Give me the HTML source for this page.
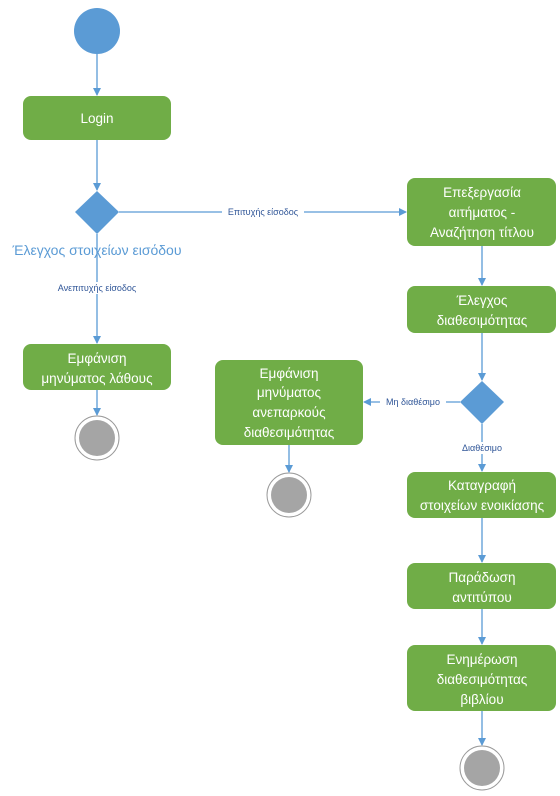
<!DOCTYPE html>
<html><head><meta charset="utf-8"><style>
body{margin:0;background:#fff;}
svg text{font-family:"Liberation Sans","DejaVu Sans",sans-serif;}
</style></head><body>
<svg width="560" height="791" viewBox="0 0 560 791" xmlns="http://www.w3.org/2000/svg">
<defs><marker id="a" markerWidth="8" markerHeight="8" refX="7" refY="4" orient="auto" markerUnits="userSpaceOnUse"><path d="M0,0 L8,4 L0,8 z" fill="#5b9bd5"/></marker></defs>
<g stroke="#5b9bd5" stroke-width="1.3" fill="none">
<line x1="97" y1="54" x2="97" y2="95" marker-end="url(#a)"/>
<line x1="97" y1="140" x2="97" y2="190" marker-end="url(#a)"/>
<line x1="97" y1="234" x2="97" y2="343" marker-end="url(#a)"/>
<line x1="97" y1="390" x2="97" y2="415" marker-end="url(#a)"/>
<line x1="119" y1="212" x2="406" y2="212" marker-end="url(#a)"/>
<line x1="482" y1="246" x2="482" y2="285" marker-end="url(#a)"/>
<line x1="482" y1="333" x2="482" y2="380" marker-end="url(#a)"/>
<line x1="460" y1="402" x2="364" y2="402" marker-end="url(#a)"/>
<line x1="289" y1="445" x2="289" y2="472" marker-end="url(#a)"/>
<line x1="482" y1="424" x2="482" y2="471" marker-end="url(#a)"/>
<line x1="482" y1="518" x2="482" y2="562" marker-end="url(#a)"/>
<line x1="482" y1="609" x2="482" y2="644" marker-end="url(#a)"/>
<line x1="482" y1="711" x2="482" y2="745" marker-end="url(#a)"/>
</g>
<circle cx="97" cy="31" r="23" fill="#5b9bd5"/>
<g fill="#70ad47">
<rect x="23" y="96" width="148" height="44" rx="8"/>
<rect x="23" y="344" width="148" height="46" rx="8"/>
<rect x="215" y="360" width="148" height="85" rx="8"/>
<rect x="407" y="178" width="149" height="68" rx="8"/>
<rect x="407" y="286" width="149" height="47" rx="8"/>
<rect x="407" y="472" width="149" height="46" rx="8"/>
<rect x="407" y="563" width="149" height="46" rx="8"/>
<rect x="407" y="645" width="149" height="66" rx="8"/>
</g>
<polygon points="97,191 119,212 97,234 75,212" fill="#5b9bd5"/>
<polygon points="482,381 504,402 482,424 460,402" fill="#5b9bd5"/>
<g>
<circle cx="97" cy="438" r="22" fill="#fff" stroke="#999" stroke-width="1"/><circle cx="97" cy="438" r="18" fill="#a5a5a5"/>
<circle cx="289" cy="495" r="22" fill="#fff" stroke="#999" stroke-width="1"/><circle cx="289" cy="495" r="18" fill="#a5a5a5"/>
<circle cx="482" cy="768" r="22" fill="#fff" stroke="#999" stroke-width="1"/><circle cx="482" cy="768" r="18" fill="#a5a5a5"/>
</g>
<g fill="#fff" font-size="13.5" text-anchor="middle">
<text x="97" y="123">Login</text>
<text x="97" y="363">Εμφάνιση</text><text x="97" y="383">μηνύματος λάθους</text>
<text x="289" y="378">Εμφάνιση</text><text x="289" y="397">μηνύματος</text><text x="289" y="417">ανεπαρκούς</text><text x="289" y="437">διαθεσιμότητας</text>
<text x="482" y="197">Επεξεργασία</text><text x="482" y="217">αιτήματος -</text><text x="482" y="237">Αναζήτηση τίτλου</text>
<text x="482" y="305">Έλεγχος</text><text x="482" y="325">διαθεσιμότητας</text>
<text x="482" y="490">Καταγραφή</text><text x="482" y="510">στοιχείων ενοικίασης</text>
<text x="482" y="582">Παράδωση</text><text x="482" y="602">αντιτύπου</text>
<text x="482" y="664">Ενημέρωση</text><text x="482" y="684">διαθεσιμότητας</text><text x="482" y="704">βιβλίου</text>
</g>
<text x="97" y="255" fill="#5b9bd5" font-size="14" text-anchor="middle">Έλεγχος στοιχείων εισόδου</text>
<g font-size="9" fill="#2f5597" text-anchor="middle">
<rect x="222" y="206" width="82" height="12" fill="#fff"/>
<text x="263" y="215">Επιτυχής είσοδος</text>
<rect x="54" y="282" width="88" height="12" fill="#fff"/>
<text x="97" y="291">Ανεπιτυχής είσοδος</text>
<rect x="380" y="396" width="66" height="12" fill="#fff"/>
<text x="413" y="405">Μη διαθέσιμο</text>
<rect x="458" y="442" width="48" height="12" fill="#fff"/>
<text x="482" y="451">Διαθέσιμο</text>
</g>
</svg>
</body></html>
